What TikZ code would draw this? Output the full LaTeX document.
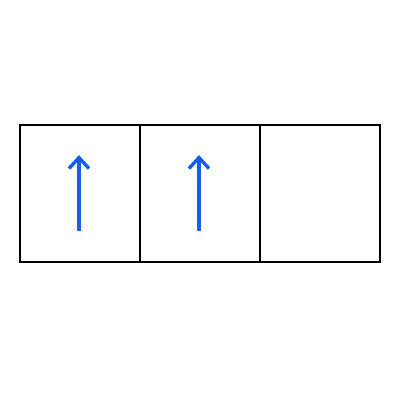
\documentclass[tikz,border=0pt]{standalone}
\usetikzlibrary{arrows.meta}
\definecolor{arrowblue}{RGB}{22,96,232}
\begin{document}
\begin{tikzpicture}[x=1pt,y=-1pt,
  cell/.style={draw=black,line width=2.4pt,minimum width=120pt,minimum height=137pt,inner sep=0pt,outer sep=0pt},
  uparrow/.style={draw=arrowblue,line width=3.4pt,-{Straight Barb[length=11pt,width=20pt,line width=3.4pt]}}]
\useasboundingbox (0,0) rectangle (400,400);
\node[cell] (c1) at (80,193.5) {};
\node[cell] (c2) at (200,193.5) {};
\node[cell] (c3) at (320,193.5) {};
\coordinate (a1s) at (79,231);
\coordinate (a1e) at (79,155);
\coordinate (a2s) at (199,231);
\coordinate (a2e) at (199,155);
\draw[uparrow] (a1s) -- (a1e);
\draw[uparrow] (a2s) -- (a2e);
\end{tikzpicture}
\end{document}
